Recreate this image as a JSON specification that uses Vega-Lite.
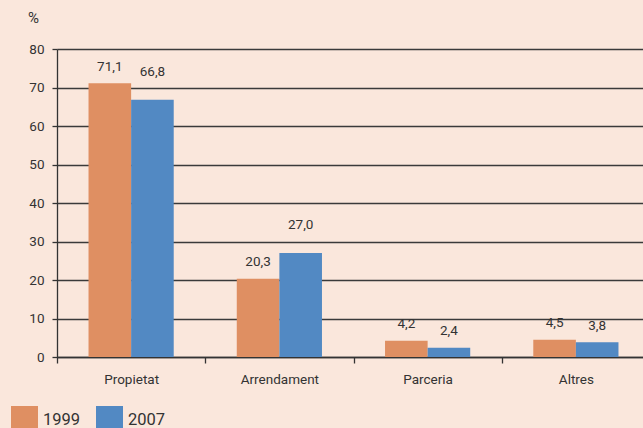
{
  "$schema": "https://vega.github.io/schema/vega-lite/v6.json",
  "autosize": "none",
  "padding": {"left": 57, "top": 49, "right": -7, "bottom": 71},
  "width": 593,
  "height": 308,
  "background": "#fae7dc",
  "config": {
    "view": {"stroke": null},
    "font": "Roboto",
    "locale": {"number": {"decimal": ",", "thousands": ".", "grouping": [3], "currency": ["", " €"]}}
  },
  "data": {"values": [
    {"categoria": "Propietat", "any": "1999", "valor": 71.1},
    {"categoria": "Propietat", "any": "2007", "valor": 66.8},
    {"categoria": "Arrendament", "any": "1999", "valor": 20.3},
    {"categoria": "Arrendament", "any": "2007", "valor": 27.0},
    {"categoria": "Parceria", "any": "1999", "valor": 4.2},
    {"categoria": "Parceria", "any": "2007", "valor": 2.4},
    {"categoria": "Altres", "any": "1999", "valor": 4.5},
    {"categoria": "Altres", "any": "2007", "valor": 3.8}
  ]},
  "encoding": {
    "x": {
      "field": "categoria", "type": "nominal", "sort": null,
      "scale": {"paddingInner": 0, "paddingOuter": 0},
      "axis": {
        "title": null, "labelAngle": 0, "tickBand": "extent",
        "domainColor": "#333333", "domainWidth": 1.3,
        "tickColor": "#333333", "tickSize": 6, "tickWidth": 1.3,
        "labelFontSize": 13.5, "labelColor": "#333333", "labelPadding": 9
      }
    },
    "xOffset": {"field": "any", "type": "nominal", "scale": {"paddingOuter": 0.74, "paddingInner": 0}},
    "y": {
      "field": "valor", "type": "quantitative",
      "scale": {"domain": [0, 80], "nice": false},
      "axis": {
        "values": [0, 10, 20, 30, 40, 50, 60, 70, 80],
        "title": "%", "titleAngle": 0, "titleX": -24, "titleY": -32,
        "titleAlign": "center", "titleBaseline": "middle",
        "titleFontSize": 15, "titleFontWeight": "normal", "titleColor": "#333333",
        "grid": true, "gridColor": "#3a3a3a", "gridWidth": 1.3,
        "domainColor": "#333333", "domainWidth": 1.3,
        "tickColor": "#333333", "tickSize": 5, "tickWidth": 1.3,
        "labelFontSize": 13.5, "labelColor": "#333333", "labelPadding": 8
      }
    }
  },
  "layer": [
    {
      "mark": {"type": "bar"},
      "encoding": {
        "color": {
          "field": "any", "type": "nominal",
          "scale": {"domain": ["1999", "2007"], "range": ["#df8f62", "#5289c3"]},
          "legend": {
            "orient": "none", "legendX": -46, "legendY": 357,
            "direction": "horizontal", "title": null,
            "symbolType": "square", "symbolSize": 729, "symbolStrokeWidth": 0, "symbolOpacity": 1,
            "labelFontSize": 16.5, "labelColor": "#333333", "labelOffset": 5,
            "columnPadding": 15, "padding": 0
          }
        }
      }
    },
    {
      "transform": [{"filter": "datum.valor != 66.8 && datum.valor != 27"}],
      "mark": {"type": "text", "baseline": "middle", "dy": -16.5, "fontSize": 13.5, "color": "#333333"},
      "encoding": {
        "text": {"field": "valor", "type": "quantitative", "format": ".1f"}
      }
    },
    {
      "transform": [{"filter": "datum.valor == 66.8 || datum.valor == 27"}],
      "mark": {"type": "text", "baseline": "middle", "dy": -28, "fontSize": 13.5, "color": "#333333"},
      "encoding": {
        "text": {"field": "valor", "type": "quantitative", "format": ".1f"}
      }
    }
  ]
}
